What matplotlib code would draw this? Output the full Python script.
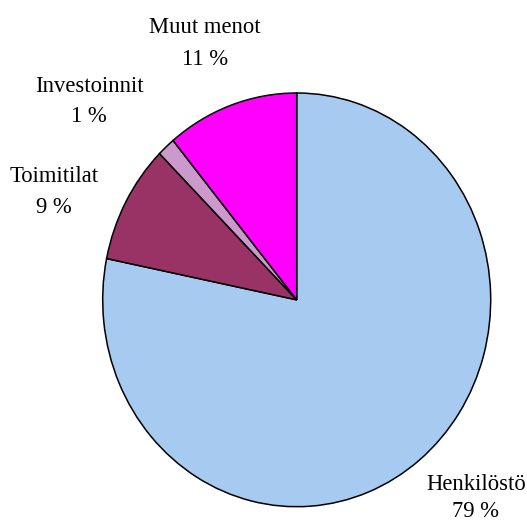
import matplotlib
matplotlib.use("Agg")
import matplotlib.pyplot as plt

categories = ["Henkilöstö", "Toimitilat", "Investoinnit", "Muut menot"]
values = [78.2, 9.3, 1.5, 11.0]
pct_labels = ["79 %", "9 %", "1 %", "11 %"]
colors = ["#A6CAF0", "#993366", "#CC99CC", "#FF00FF"]

W, H = 527, 522
fig = plt.figure(figsize=(W / 100, H / 100), dpi=100)
fig.patch.set_facecolor("white")

# pie area in pixels (elliptical)
left, right, top, bottom = 102.7, 490.7, 93.0, 506.7
ax = fig.add_axes([left / W, 1 - bottom / H, (right - left) / W, (bottom - top) / H])
ax.pie(values, colors=colors, startangle=90, counterclock=False,
       wedgeprops=dict(edgecolor="black", linewidth=1.1, clip_on=False))
ax.set_aspect("auto")
ax.set_xlim(-1, 1)
ax.set_ylim(-1, 1)
ax.axis("off")

font = dict(family="Liberation Serif", fontsize=16.3, color="black")
# label positions (pixel centers x, baseline y of first and second line)
label_pos = {
    "Henkilöstö": (476, 490, 517),
    "Toimitilat": (54, 182, 213),
    "Investoinnit": (89, 92, 122),
    "Muut menot": (205, 33, 65),
}
for name, pct in zip(categories, pct_labels):
    x, y1, y2 = label_pos[name]
    fig.text(x / W, 1 - y1 / H, name, ha="center", va="baseline", **font)
    fig.text(x / W, 1 - y2 / H, pct, ha="center", va="baseline", **font)

fig.savefig("out.png", dpi=100, facecolor="white")
